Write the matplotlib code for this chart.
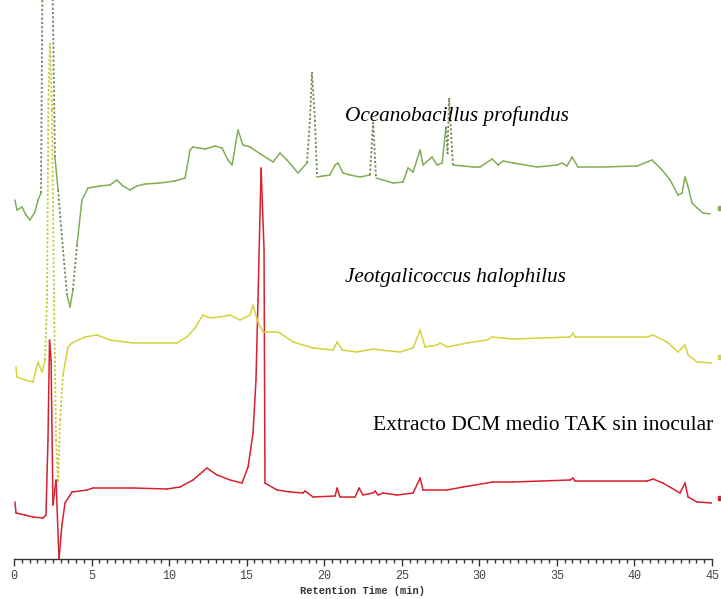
import matplotlib
matplotlib.use("Agg")
import matplotlib.pyplot as plt
import numpy as np
from matplotlib.ticker import MultipleLocator

# ~~~~~~~~~~~~~~~~~~~~~~~~~~~~~~~~~~~~~~~~~~~~~~~~~~~~~~~~~~~~~~~~~~~~~~~~~~~~~
# chromatogram traces (time in min, signal in arbitrary units)

ocean_t = [0.06, 0.19, 0.52, 0.77, 1.03, 1.35, 1.55, 1.74, 1.87, 2.13, 2.45, 2.64,
           2.84, 3.16, 3.42, 3.61, 3.80, 4.06, 4.38, 4.77, 5.54, 6.19, 6.64, 7.03,
           7.48, 7.93, 8.45, 9.41, 10.38, 11.03, 11.35, 11.54, 12.32, 12.96, 13.41,
           13.80, 14.06, 14.44, 14.76, 15.22, 15.99, 16.70, 17.15, 17.60, 18.31,
           18.89, 19.08, 19.21, 19.40, 19.54, 19.92, 20.37, 20.70, 20.89, 21.21,
           21.66, 22.31, 22.95, 23.15, 23.34, 23.79, 24.44, 25.08, 25.40, 25.73,
           26.18, 26.37, 26.95, 27.27, 27.60, 27.85, 27.95, 28.05, 28.30, 28.95,
           29.59, 30.05, 30.82, 31.21, 31.53, 32.17, 33.72, 35.01, 35.33, 35.65,
           35.98, 36.36, 37.98, 40.17, 41.13, 41.78, 42.30, 42.81, 43.07, 43.26,
           43.46, 43.71, 44.04, 44.42, 44.88]
ocean_s = [359, 349, 352, 344, 339, 347, 359, 366, 659, 720, 609, 402,
           369, 309, 264, 252, 269, 314, 359, 371, 373, 374, 379, 373,
           369, 373, 375, 376, 378, 381, 409, 412, 410, 413, 411,
           399, 394, 429, 414, 412, 404, 397, 406, 399, 386,
           396, 439, 487, 439, 382, 383, 384, 394, 396, 386,
           384, 382, 384, 437, 381, 379, 376, 377, 391, 387,
           409, 394, 402, 394, 396, 432, 405, 461, 394, 393,
           392, 392, 400, 394, 398, 396, 392, 394, 396, 393,
           402, 392, 392, 393, 399, 389, 379, 364, 366, 382,
           372, 356, 351, 346, 345]

jeot_t = [0.13, 0.19, 0.71, 1.22, 1.55, 1.81, 2.00, 2.13, 2.22, 2.32, 2.45, 2.58,
          2.71, 2.84, 2.97, 3.16, 3.48, 3.74, 4.58, 5.35, 6.19, 7.67, 10.51, 11.15,
          11.67, 12.19, 12.64, 13.28, 13.93, 14.57, 15.22, 15.41, 15.73, 16.05,
          16.96, 17.15, 17.99, 19.28, 20.57, 20.83, 21.15, 22.11, 23.15, 23.60,
          24.89, 25.73, 26.18, 26.50, 27.27, 27.47, 27.92, 29.21, 30.50, 30.82,
          32.17, 35.85, 36.04, 36.17, 40.81, 41.20, 42.10, 42.81, 43.07, 43.26,
          43.46, 44.04, 45.00]
jeot_s = [192, 182, 179, 177, 197, 187, 199, 259, 459, 516, 449, 259,
          119, 77, 139, 184, 212, 216, 222, 224, 219, 216, 216, 222,
          231, 244, 241, 242, 244, 239, 244, 254, 237, 227,
          227, 226, 217, 211, 209, 217, 209, 207, 210, 209,
          207, 211, 229, 212, 214, 216, 212, 216, 219, 222,
          220, 222, 226, 222, 222, 224, 217, 207, 211, 214,
          204, 197, 196]

blank_t = [0.06, 0.13, 0.71, 1.22, 1.87, 2.06, 2.19, 2.29, 2.39, 2.51, 2.71, 2.90,
           3.09, 3.29, 3.74, 4.71, 5.09, 7.67, 9.86, 10.70, 11.54, 11.99, 12.44,
           13.09, 13.93, 14.70, 15.09, 15.41, 15.60, 15.73, 15.93, 16.12, 16.18,
           16.96, 17.80, 18.63, 18.76, 19.28, 20.70, 20.83, 21.02, 21.99, 22.24,
           22.50, 23.15, 23.28, 23.47, 23.79, 24.69, 25.73, 26.18, 26.37, 27.92,
           28.95, 30.88, 32.17, 35.85, 36.04, 36.17, 40.81, 41.20, 41.84, 42.94,
           43.26, 43.46, 44.04, 45.00]
blank_s = [57, 46, 44, 42, 41, 44, 119, 219, 199, 54, 79, 0,
           34, 56, 67, 69, 71, 71, 70, 72, 79, 85, 91,
           84, 79, 76, 92, 126, 179, 259, 391, 309, 76,
           69, 67, 66, 68, 62, 63, 71, 62, 62, 71,
           64, 66, 68, 64, 66, 64, 66, 81, 69, 69,
           72, 77, 77, 79, 81, 78, 78, 80, 76, 66,
           76, 62, 57, 56]

# stray end-of-run points just past 45 min
end_t = 45.52
end_s = [351, 202, 61]

trace_names = ['Oceanobacillus profundus', 'Jeotgalicoccus halophilus',
               'Extracto DCM medio TAK sin inocular']
trace_colors = ['#7fae55', '#d6d23c', '#d9202e']

# ~~~~~~~~~~~~~~~~~~~~~~~~~~~~~~~~~~~~~~~~~~~~~~~~~~~~~~~~~~~~~~~~~~~~~~~~~~~~~

def draw_trace(ax, t, s, color, steep_color=None):
    # steep segments of the scan come out dotted in the original export
    t = np.asarray(t, dtype=float)
    s = np.asarray(s, dtype=float)
    slope = np.abs(np.diff(s) / np.diff(t)) / 34.5
    for i in range(len(t) - 1):
        steep = steep_color is not None and slope[i] > 5
        ax.plot(t[i:i + 2], s[i:i + 2],
                color=steep_color if steep else color,
                linestyle=(0, (1.2, 1.2)) if steep else '-',
                linewidth=1.3 if steep else 1.1,
                solid_capstyle='round')

# ~~~~~~~~~~~~~~~~~~~~~~~~~~~~~~~~~~~~~~~~~~~~~~~~~~~~~~~~~~~~~~~~~~~~~~~~~~~~~

def main():
    fig = plt.figure(figsize=(7.21, 5.99), dpi=100)
    ax = fig.add_axes([14 / 721, 40 / 599, 698 / 721, 559 / 599])

    draw_trace(ax, blank_t, blank_s, trace_colors[2])
    draw_trace(ax, jeot_t, jeot_s, trace_colors[1], steep_color='#c9c62e')
    draw_trace(ax, ocean_t, ocean_s, trace_colors[0], steep_color='#72875a')

    for s_end, c in zip(end_s, trace_colors):
        ax.plot([end_t], [s_end], marker='s', markersize=2.5, color=c,
                linestyle='none', clip_on=False)

    ax.set_xlim(0, 45)
    ax.set_ylim(0, 559)

    for side in ['left', 'right', 'top']:
        ax.spines[side].set_visible(False)
    ax.spines['bottom'].set_color('#333333')
    ax.spines['bottom'].set_linewidth(1.0)
    ax.set_yticks([])

    ax.xaxis.set_major_locator(MultipleLocator(5))
    ax.xaxis.set_minor_locator(MultipleLocator(0.5))
    ax.tick_params(axis='x', which='major', direction='out', length=5, width=1,
                   color='#333333', pad=3, labelsize=8.5, labelcolor='#444444')
    ax.tick_params(axis='x', which='minor', direction='out', length=3, width=1,
                   color='#333333')
    for lbl in ax.get_xticklabels():
        lbl.set_fontfamily('Liberation Mono')

    ax.set_xlabel('Retention Time (min)', fontfamily='Liberation Mono',
                  fontsize=7.5, fontweight='bold', color='#333333', labelpad=3)

    fig.text(457 / 721, 1 - 116 / 599, trace_names[0], fontfamily='Liberation Serif',
             fontstyle='italic', fontsize=15.3, ha='center', va='center')
    fig.text(455 / 721, 1 - 278 / 599, trace_names[1], fontfamily='Liberation Serif',
             fontstyle='italic', fontsize=15.3, ha='center', va='center')
    fig.text(543 / 721, 1 - 426 / 599, trace_names[2], fontfamily='Liberation Serif',
             fontsize=15.5, ha='center', va='center')

    fig.savefig('out.png', dpi=100)

# ~~~~~~~~~~~~~~~~~~~~~~~~~~~~~~~~~~~~~~~~~~~~~~~~~~~~~~~~~~~~~~~~~~~~~~~~~~~~~

if __name__ == '__main__':
    main()
